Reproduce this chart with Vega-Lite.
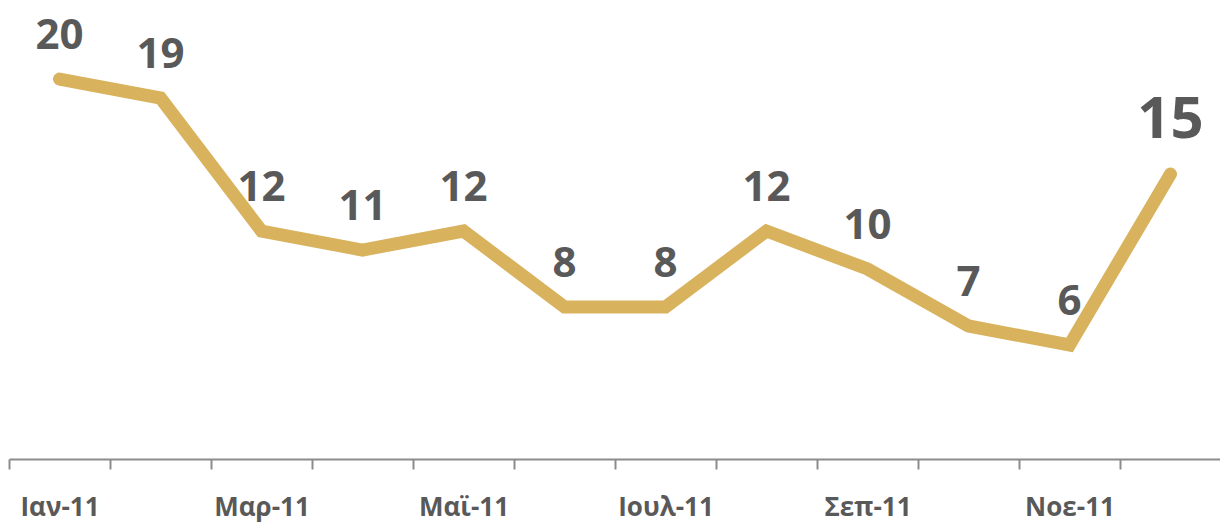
{
  "$schema": "https://vega.github.io/schema/vega-lite/v6.json",
  "width": 1212,
  "height": 459,
  "autosize": {"type": "none"},
  "padding": {"left": 9, "top": 0, "right": 0, "bottom": 65},
  "background": "white",
  "config": {"view": {"stroke": null}},
  "data": {
    "values": [
      {"month": "Ιαν-11", "value": 20},
      {"month": "Φεβ-11", "value": 19},
      {"month": "Μαρ-11", "value": 12},
      {"month": "Απρ-11", "value": 11},
      {"month": "Μαϊ-11", "value": 12},
      {"month": "Ιουν-11", "value": 8},
      {"month": "Ιουλ-11", "value": 8},
      {"month": "Αυγ-11", "value": 12},
      {"month": "Σεπ-11", "value": 10},
      {"month": "Οκτ-11", "value": 7},
      {"month": "Νοε-11", "value": 6},
      {"month": "Δεκ-11", "value": 15}
    ]
  },
  "encoding": {
    "x": {
      "field": "month",
      "type": "ordinal",
      "sort": null,
      "scale": {"type": "band", "paddingInner": 0, "paddingOuter": 0},
      "axis": {
        "title": null,
        "tickBand": "extent",
        "labelAngle": 0,
        "labelOverlap": false,
        "labelExpr": "indexof(['Ιαν-11','Μαρ-11','Μαϊ-11','Ιουλ-11','Σεπ-11','Νοε-11'], datum.value) >= 0 ? datum.value : ''",
        "labelFont": "Open Sans",
        "labelFontWeight": "bold",
        "labelFontSize": 26,
        "labelColor": "#595959",
        "labelBaseline": "alphabetic",
        "labelPadding": 46,
        "domainColor": "#8C8C8C",
        "domainWidth": 2,
        "tickColor": "#8C8C8C",
        "tickWidth": 2,
        "tickSize": 10,
        "grid": false
      }
    },
    "y": {
      "field": "value",
      "type": "quantitative",
      "scale": {"domain": [0, 24.16], "nice": false, "zero": true},
      "axis": null
    }
  },
  "layer": [
    {
      "mark": {"type": "line", "color": "#D8B25C", "strokeWidth": 13, "strokeCap": "round", "strokeJoin": "miter"}
    },
    {
      "transform": [{"filter": "datum.month !== 'Δεκ-11'"}],
      "mark": {"type": "text", "font": "Open Sans", "fontWeight": "bold", "fontSize": 42, "color": "#595959", "baseline": "alphabetic", "align": "center", "dy": -30},
      "encoding": {"text": {"field": "value", "type": "quantitative"}}
    },
    {
      "transform": [{"filter": "datum.month === 'Δεκ-11'"}],
      "mark": {"type": "text", "font": "Open Sans", "fontWeight": "bold", "fontSize": 58, "color": "#595959", "baseline": "alphabetic", "align": "center", "dy": -36},
      "encoding": {"text": {"field": "value", "type": "quantitative"}}
    }
  ]
}
